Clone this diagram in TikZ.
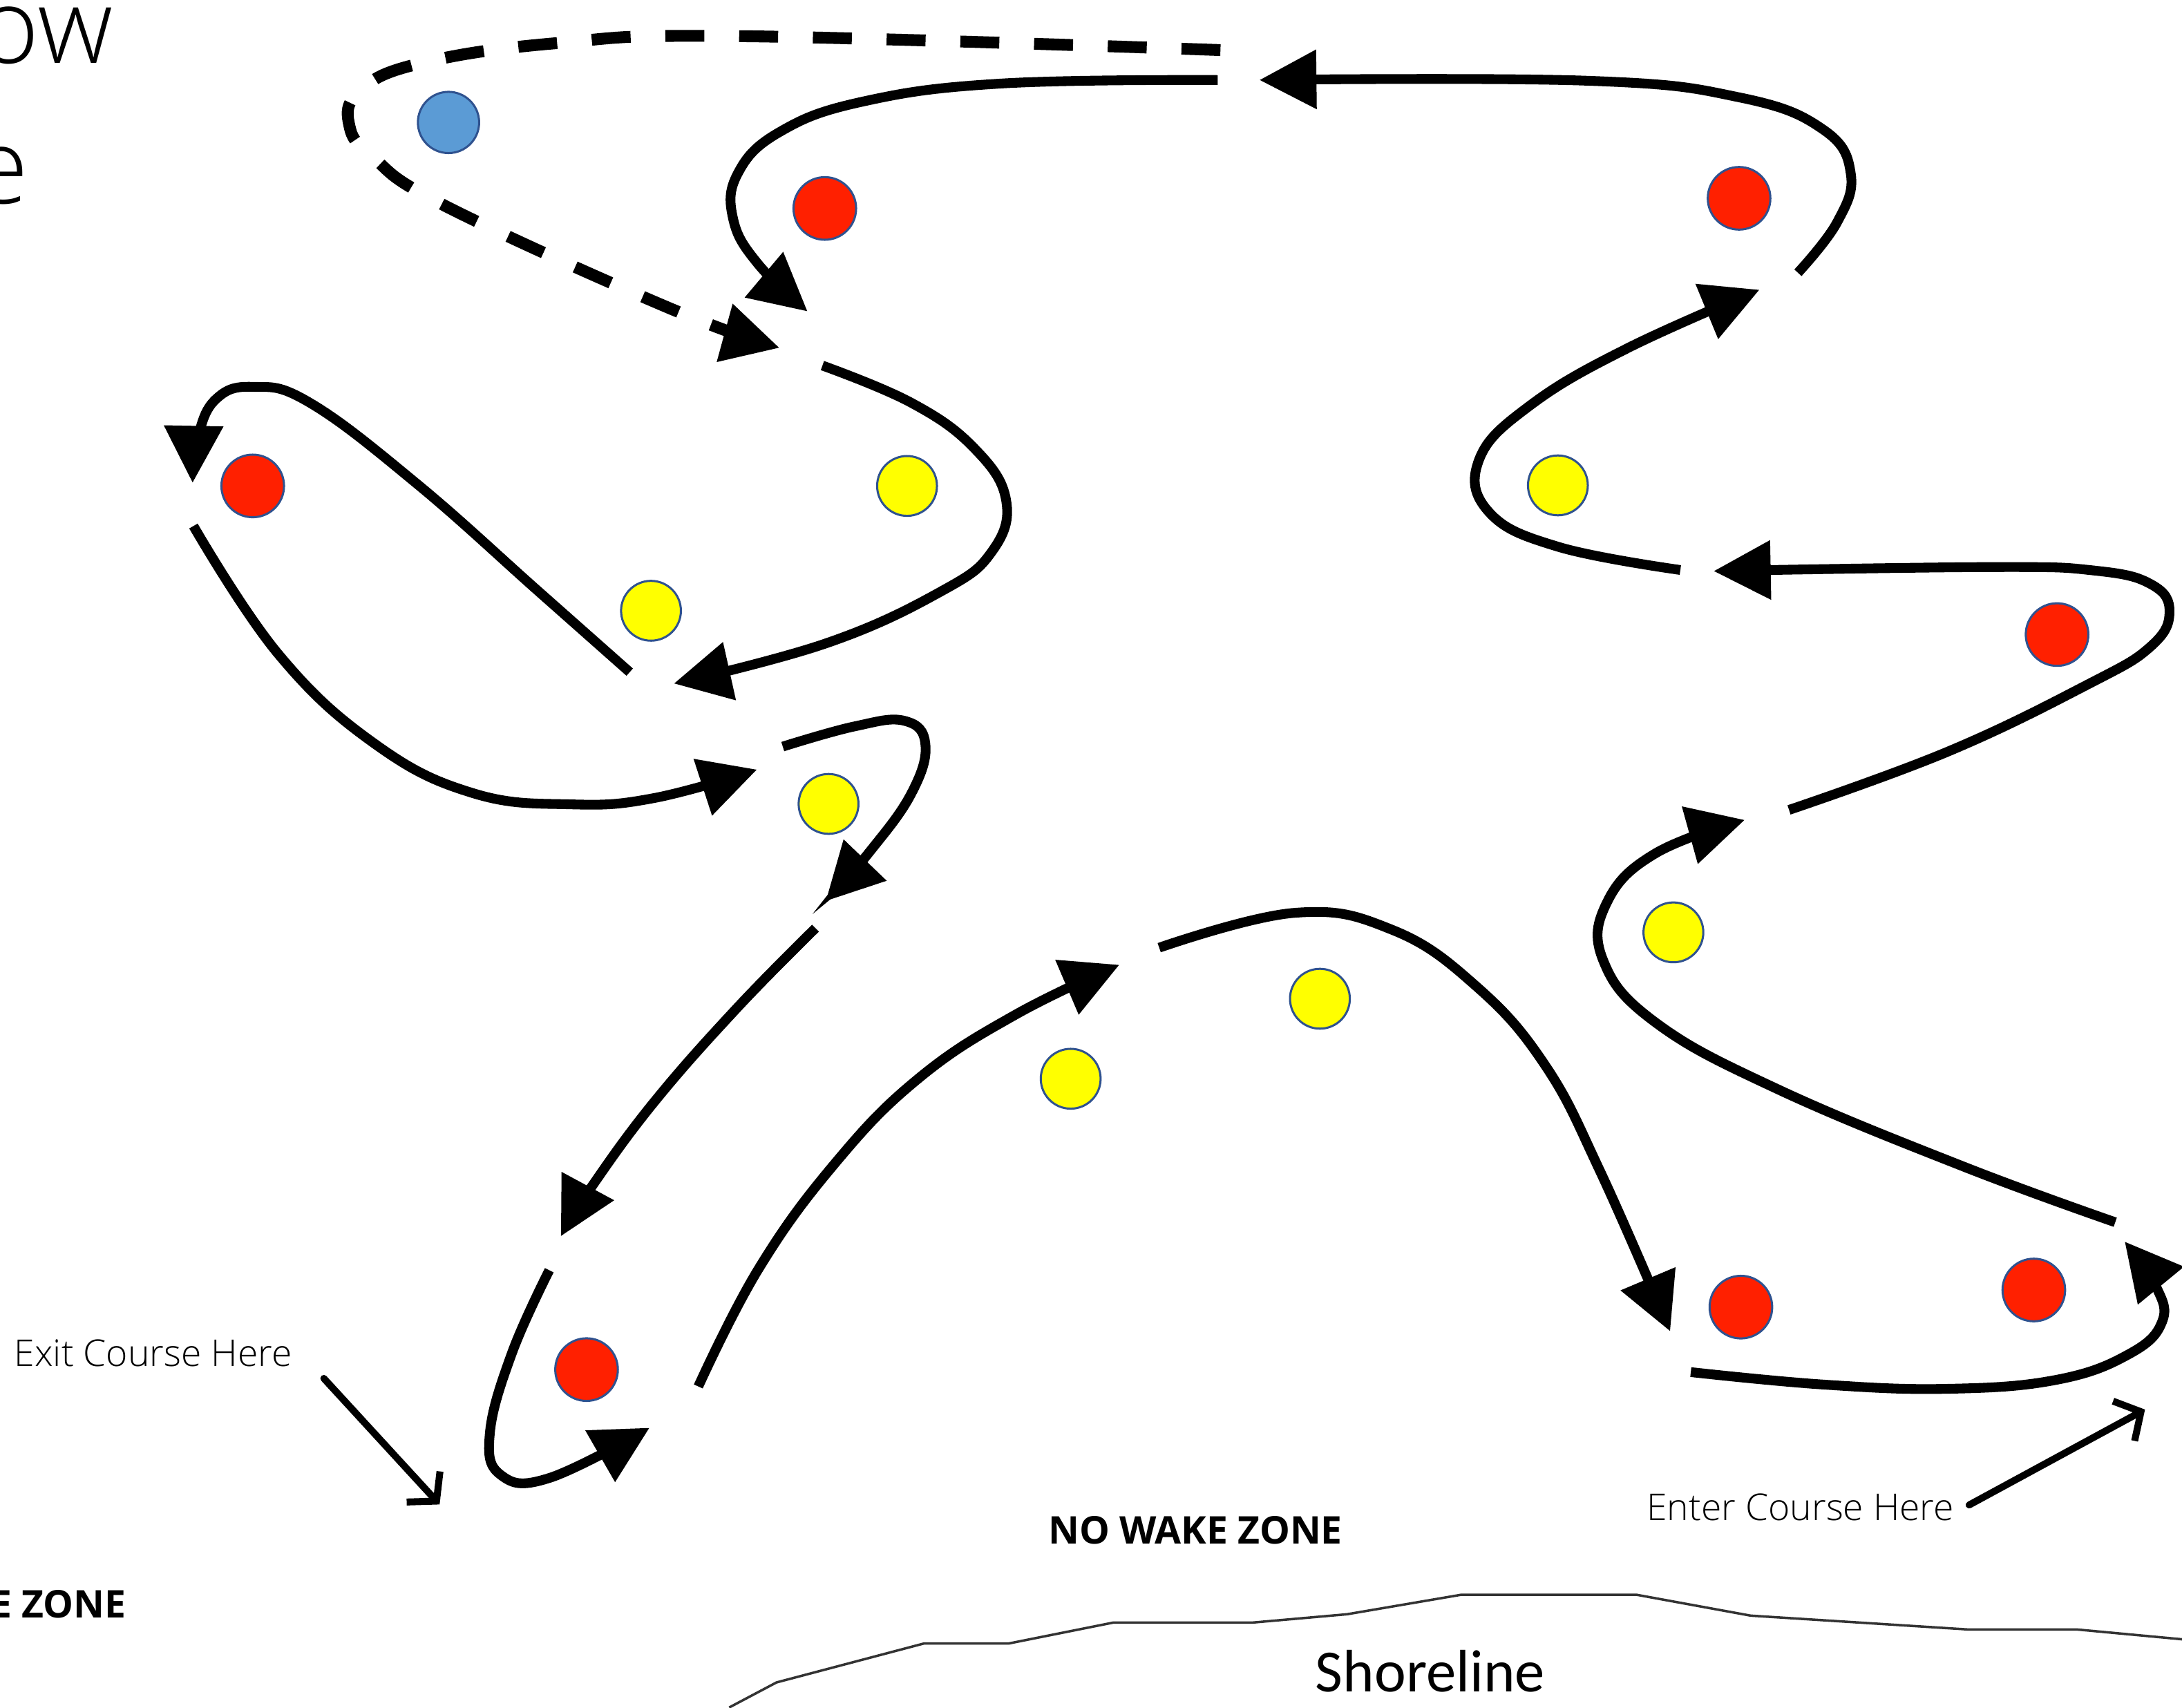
\documentclass[tikz,border=0pt]{standalone}
\usepackage{fontspec}
\usetikzlibrary{arrows.meta}
\newfontfamily\lightfont{Open Sans Light}
\newfontfamily\heavyfont{Open Sans}
\newfontfamily\shorefont{Carlito}
\definecolor{buoyred}{RGB}{255,32,0}
\definecolor{buoyyellow}{RGB}{255,255,0}
\definecolor{buoyblue}{RGB}{91,155,213}
\definecolor{buoyedge}{RGB}{47,82,143}
\tikzset{
	course/.style={line width=1.4mm, -{Triangle[length=8.2mm,width=8.2mm]}},
	altcourse/.style={line width=1.7mm, dash pattern=on 5.6mm off 5mm, -{Triangle[length=8.2mm,width=8.2mm]}},
	pointer/.style={line width=1mm, line cap=round, line join=round, -{Straight Barb[length=2.8mm,width=6.5mm]}},
	buoy/.style={circle, inner sep=0pt, draw=buoyedge, line width=0.3mm},
	redbuoy/.style={buoy, fill=buoyred, minimum size=9mm},
	yellowbuoy/.style={buoy, fill=buoyyellow, minimum size=8.6mm},
	bluebuoy/.style={buoy, fill=buoyblue, minimum size=8.8mm},
	note/.style={inner sep=0pt, font=\lightfont\fontsize{15.1}{18}\selectfont},
	zone/.style={inner sep=0pt, font=\heavyfont\bfseries\fontsize{15.6}{19}\selectfont},
}

\begin{document}
\begin{tikzpicture}[x=0.2mm, y=-0.2mm]
		%%%%% START %%%%%
		\useasboundingbox (0, 0) rectangle (1568, 1227);
		\clip (0, 0) rectangle (1568, 1227);
		
		% cut off title
		\node[inner sep=0pt, anchor=base east, font=\lightfont\fontsize{42.7}{50}\selectfont] (title1) at (81.5, 45.6) {ow};
		\node[inner sep=0pt, anchor=base east, font=\lightfont\fontsize{42.7}{50}\selectfont] (title2) at (21, 146) {e};
		
		% top
		\draw[course] plot[smooth, tension=0.7] coordinates {(1292, 196) (1320, 160) (1330, 125) (1310, 93) (1250, 70) (1140, 58) (905, 57.5)};
		\draw[course] plot[smooth, tension=0.7] coordinates {(875, 57.5) (720, 60) (620, 73) (560, 95) (530, 125) (527, 158) (545, 190) (580.3, 223.8)};
		\draw[altcourse] plot[smooth, tension=0.7] coordinates {(877, 36) (533, 26) (400, 31) (300, 46) (258, 66) (251, 90) (268, 113) (320, 148) (480, 221) (560.3, 250)};
		
		% left side
		\draw[course] plot[smooth, tension=0.7] coordinates {(591, 262.7) (655, 289.5) (700, 322) (723, 359.5) (712.7, 396.5) (675.7, 425.3) (593.3, 462.4) (484.2, 491.2)};
		\draw[course] plot[smooth, tension=0.7] coordinates {(452.5, 483) (387, 425) (300, 348) (222.8, 289.5) (181.6, 278) (155, 287) (142, 315) (138.4, 347)};
		\draw[course] plot[smooth, tension=0.7] coordinates {(139, 378) (200, 470) (270, 535) (340, 570) (410, 578) (470, 573.5) (544, 553)};
		\draw[course] plot[smooth, tension=0.7] coordinates {(562.5, 536.5) (614, 522) (650, 518) (665, 535) (655, 570) (625, 612) (593.3, 647.6)};
		\draw[course] plot[smooth, tension=0.7] coordinates {(586, 667) (529, 725) (470, 792) (425, 853) (403, 888.4)};
		\draw[course] plot[smooth, tension=0.7] coordinates {(394.7, 912.8) (368, 972) (352, 1030) (360, 1060) (395, 1062) (466.8, 1026)};
		
		% middle
		\draw[course] plot[smooth, tension=0.7] coordinates {(501.8, 996.3) (545, 912) (600, 836) (660, 775) (730, 729) (804.4, 693.3)};
		\draw[course] plot[smooth, tension=0.7] coordinates {(833, 681) (930, 656) (1000, 668) (1060, 708) (1110, 765) (1150, 842) (1200.2, 956.7)};
		
		% right side
		\draw[course] plot[smooth, tension=0.7] coordinates {(1215, 986) (1311, 995) (1400, 998) (1478, 991.5) (1530, 973) (1553.6, 950) (1549.4, 924.6) (1526.8, 892.2)};
		\draw[course] plot[smooth, tension=0.7] coordinates {(1520, 878.3) (1411, 838.3) (1277, 782.5) (1190, 735) (1152, 690) (1155, 648) (1190, 613) (1253.8, 589.2)};
		\draw[course] plot[smooth, tension=0.7] coordinates {(1285.6, 582) (1400, 540) (1500, 492) (1545, 465) (1559, 440) (1546, 420) (1505, 410) (1430, 407.5) (1231.4, 410.4)};
		\draw[course] plot[smooth, tension=0.7] coordinates {(1207.5, 409.6) (1120, 393) (1070, 368) (1063, 330) (1100, 291) (1170, 250) (1264.4, 208.2)};
		
		% buoys
		\node[bluebuoy] (b1) at (322.3, 88) {};
		\node[redbuoy] (r1) at (592.7, 149.8) {};
		\node[redbuoy] (r2) at (1249.7, 142.5) {};
		\node[redbuoy] (r3) at (181.6, 349.2) {};
		\node[redbuoy] (r4) at (1478.2, 456) {};
		\node[redbuoy] (r5) at (1251, 939.3) {};
		\node[redbuoy] (r6) at (1461.5, 927) {};
		\node[redbuoy] (r7) at (421.5, 984.2) {};
		\node[yellowbuoy] (y1) at (651.8, 349.2) {};
		\node[yellowbuoy] (y2) at (1119.5, 348.8) {};
		\node[yellowbuoy] (y3) at (467.8, 438.9) {};
		\node[yellowbuoy] (y4) at (595.4, 577.7) {};
		\node[yellowbuoy] (y5) at (1202.5, 670) {};
		\node[yellowbuoy] (y6) at (948.5, 717.7) {};
		\node[yellowbuoy] (y7) at (769.4, 775.2) {};
		
		% labels
		\node[note, anchor=base west] (exit) at (10, 981.8) {Exit Course Here};
		\node[note, anchor=base west] (enter) at (1183, 1092.4) {Enter Course Here};
		\coordinate (exittip) at (315.9, 1081.1);
		\coordinate (entertip) at (1541.4, 1012.9);
		\draw[pointer] (232.7, 990.5) -- (exittip);
		\draw[pointer] (1415, 1081.5) -- (entertip);
		
		\node[zone, anchor=base west] (nowake) at (753, 1109.5) {NO WAKE ZONE};
		\node[zone, anchor=base east] (nowakeleft) at (91, 1162.6) {E ZONE};
		
		% shore
		\draw[line width=0.35mm, color=black!80] (524, 1227) -- (558, 1209) -- (664, 1181) -- (725, 1181) -- (800, 1166) -- (900, 1166) -- (968, 1160) -- (1050, 1146) -- (1176, 1146) -- (1258, 1161) -- (1415, 1171) -- (1493, 1171) -- (1568, 1178);
		\node[inner sep=0pt, anchor=base west, font=\shorefont\fontsize{24.5}{28}\selectfont] (shore) at (945, 1215.6) {Shoreline};
		
		%%%%% END %%%%%
	\end{tikzpicture}
\end{document}
